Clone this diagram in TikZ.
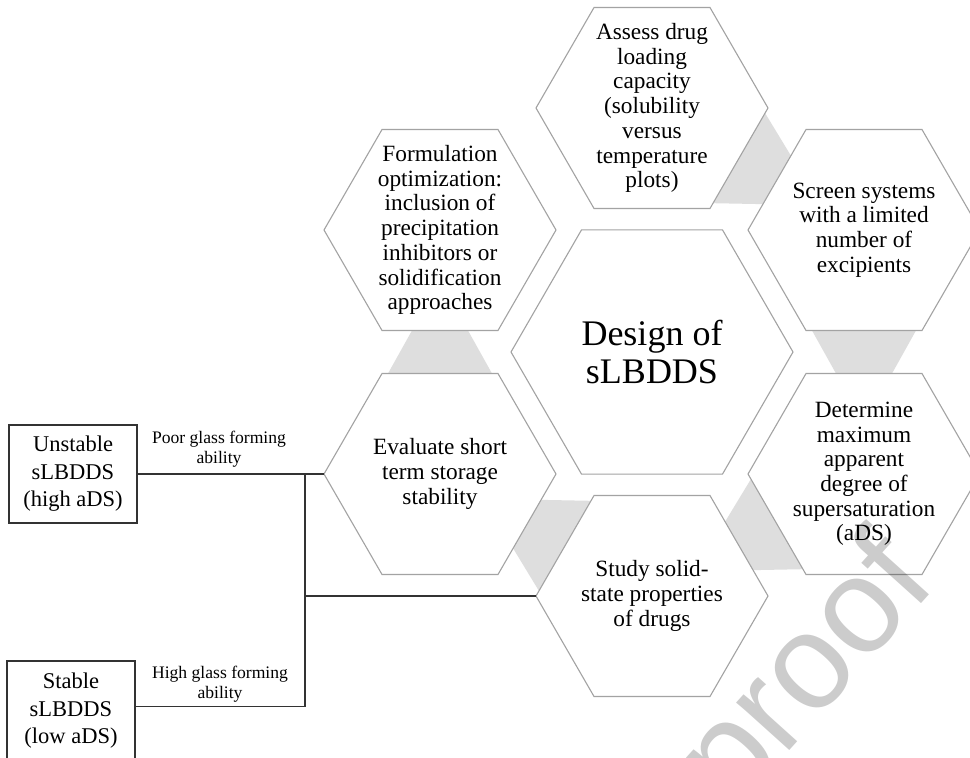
\documentclass[tikz,border=0pt]{standalone}
\usepackage{fontspec}
\setmainfont{Liberation Serif}
\newfontfamily\wmfont{Liberation Sans}
\usetikzlibrary{shapes.geometric,calc}
\newcommand\gapconn[2]{%
  \path ($(#1)!100.5pt!(#2)$) coordinate (gs) ($(#2)!100.5pt!(#1)$) coordinate (gt);
  \fill[gapfill] ($(gs)!52pt!90:(gt)$) -- ($(gs)!52pt!-90:(gt)$) -- ($(gt)!28pt!90:(gs)$) -- ($(gt)!28pt!-90:(gs)$) -- cycle;}
\begin{document}
\begin{tikzpicture}[x=1pt,y=-1pt,
  hexs/.style={draw=black!36, line width=1.1pt, regular polygon, regular polygon sides=6, minimum size=232pt, inner sep=0pt, outer sep=0pt},
  hexb/.style={hexs, minimum size=282pt},
  htext/.style={align=center, font=\fontsize{23.3}{24.7}\selectfont, inner sep=0pt},
  gapfill/.style={fill=black!13},
  box/.style={draw=black!80, line width=1.3pt, minimum width=128pt, align=center, font=\fontsize{22.5}{27.5}\selectfont, inner sep=0pt},
  lab/.style={align=center, font=\fontsize{17.6}{20}\selectfont, inner sep=0pt},
  link/.style={draw=black!80, line width=1.5pt},
]
\useasboundingbox[fill=white] (0,0) rectangle (970,758);
% centres
\coordinate (cA) at (652,108);
\coordinate (cSc) at (864,230);
\coordinate (cD) at (864,474);
\coordinate (cSt) at (652,596);
\coordinate (cE) at (440,474);
\coordinate (cF) at (440,230);
\coordinate (cC) at (652,352);
% cycle connectors
\gapconn{cA}{cSc}
\gapconn{cSc}{cD}
\gapconn{cD}{cSt}
\gapconn{cSt}{cE}
\gapconn{cE}{cF}
% hexagons
\node[hexs] (hA) at (cA) {};
\node[hexs] (hSc) at (cSc) {};
\node[hexs] (hD) at (cD) {};
\node[hexs] (hSt) at (cSt) {};
\node[hexs] (hE) at (cE) {};
\node[hexs] (hF) at (cF) {};
\node[hexb] (hC) at (cC) {};
% texts
\node[htext] (tA) at (hA) {Assess drug\\loading\\capacity\\(solubility\\versus\\temperature\\plots)};
\node[htext] (tSc) at (hSc) {Screen systems\\with a limited\\number of\\excipients};
\node[htext] (tD) at (hD) {Determine\\maximum\\apparent\\degree of\\supersaturation\\(aDS)};
\node[htext] (tSt) at (hSt) {Study solid-\\state properties\\of drugs};
\node[htext] (tE) at (hE) {Evaluate short\\term storage\\stability};
\node[htext] (tF) at (hF) {Formulation\\optimization:\\inclusion of\\precipitation\\inhibitors or\\solidification\\approaches};
\node[align=center, font=\fontsize{36}{38}\selectfont, inner sep=0pt] (tC) at (hC) {Design of\\sLBDDS};
% left boxes
\node[box, minimum height=98pt] (ub) at (73,474) {Unstable\\sLBDDS\\(high aDS)};
\node[box, minimum height=100pt] (sb) at (71,711) {Stable\\sLBDDS\\(low aDS)};
\node[lab] (lp) at (219,449) {Poor glass forming\\ability};
\node[lab] (lh) at (220,684) {High glass forming\\ability};
\coordinate (jn) at (305,474);
\coordinate (sbp) at ($(sb.north east)+(0,46)$);
\draw[link] (ub.east) -- (hE.west);
\draw[link] (sbp) -| (jn);
\draw[link] (jn |- hSt.west) -- (hSt.west);
% watermark
\node[rotate=48, anchor=base west, font=\wmfont\fontsize{135}{135}\selectfont, text=black, text opacity=0.2, inner sep=0pt] (wm) at (733,813) {proof};
\end{tikzpicture}
\end{document}
